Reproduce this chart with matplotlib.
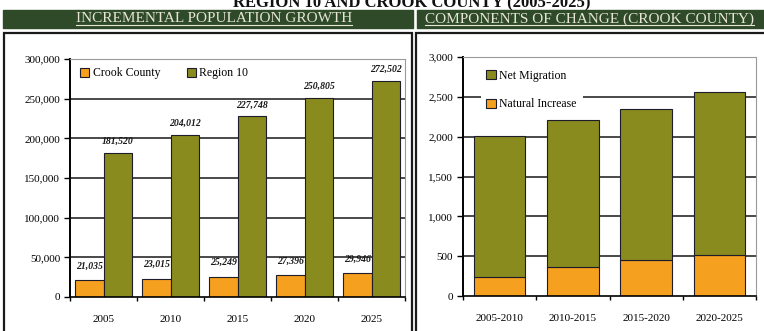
import matplotlib
matplotlib.use('Agg')
import matplotlib.pyplot as plt
import numpy as np
from matplotlib.patches import Rectangle
from matplotlib.lines import Line2D

# ---------------- data ----------------
years = ['2005', '2010', '2015', '2020', '2025']
crook = [21035, 23015, 25249, 27396, 29946]
region10 = [181520, 204012, 227748, 250805, 272502]
crook_labels = ['21,035', '23,015', '25,249', '27,396', '29,946']
region_labels = ['181,520', '204,012', '227,748', '250,805', '272,502']
left_yticks = [0, 50000, 100000, 150000, 200000, 250000, 300000]

periods = ['2005-2010', '2010-2015', '2015-2020', '2020-2025']
natural_increase = [240, 370, 455, 515]
net_migration = [1770, 1840, 1890, 2040]
right_yticks = [0, 500, 1000, 1500, 2000, 2500, 3000]

title = 'REGION 10 AND CROOK COUNTY (2005-2025)'
left_header = 'INCREMENTAL POPULATION GROWTH'
right_header = 'COMPONENTS OF CHANGE (CROOK COUNTY)'

# ---------------- style ----------------
plt.rcParams['font.family'] = ['Liberation Serif', 'DejaVu Serif']
OLIVE = '#8a8b1e'
ORANGE = '#f6a01f'
EDGE = '#1c1c2a'
HDR = '#2f4a28'
HTXT = '#e6e5d6'
W, H = 764, 331

fig = plt.figure(figsize=(W / 100, H / 100), dpi=100)
fig.patch.set_facecolor('white')


def fx(px):
    return px / W


def fy(py):
    return 1 - py / H


# title (partially cut at top, as in the source)
fig.text(fx(412), fy(7.5), title, ha='center', va='baseline', fontsize=12,
         fontweight='bold', color='#111111')

# header bars
HT, HB = 10, 28
fig.patches.append(Rectangle((fx(3), fy(HB)), fx(413) - fx(3), (HB - HT) / H,
                             transform=fig.transFigure, color=HDR, zorder=0))
fig.patches.append(Rectangle((fx(417), fy(HB)), fx(770) - fx(417), (HB - HT) / H,
                             transform=fig.transFigure, color=HDR, zorder=0))
t1 = fig.text(fx(214), fy(19), left_header, ha='center', va='center',
              fontsize=11, color=HTXT)
t2 = fig.text(fx(425), fy(19), right_header, ha='left', va='center',
              fontsize=11, color=HTXT)

# panel borders
BT = 33
fig.patches.append(Rectangle((fx(4), fy(340)), fx(412) - fx(4), (340 - BT) / H,
                             transform=fig.transFigure, fill=False,
                             edgecolor='#1a1a1a', lw=1.6, zorder=5))
fig.patches.append(Rectangle((fx(416), fy(340)), fx(780) - fx(416), (340 - BT) / H,
                             transform=fig.transFigure, fill=False,
                             edgecolor='#1a1a1a', lw=1.6, zorder=5))


def style_axes(ax, yticks, ylabels, ncat):
    ax.set_ylim(yticks[0], yticks[-1])
    ax.set_yticks(yticks)
    ax.set_yticklabels(ylabels, fontsize=8)
    ax.set_xlim(-0.5, ncat - 0.5)
    ax.set_xticks(np.arange(-0.5, ncat), minor=True)
    ax.tick_params(axis='x', which='major', length=0, pad=13, labelsize=8)
    ax.tick_params(axis='x', which='minor', length=3, width=1, direction='out')
    ax.tick_params(axis='y', length=4, width=1, direction='out', pad=3)
    for v in yticks[1:-1]:
        ax.axhline(v, color='#2a2a2a', lw=1.2, zorder=0.5)
    ax.set_axisbelow(True)
    ax.spines['left'].set_linewidth(1.4)
    ax.spines['bottom'].set_linewidth(1.2)
    ax.spines['top'].set_color('#9a9a9a')
    ax.spines['top'].set_linewidth(0.8)
    ax.spines['top'].set_linestyle((0, (3, 1)))
    ax.spines['right'].set_color('#9a9a9a')
    ax.spines['right'].set_linewidth(0.8)


# ---------------- left chart ----------------
axL = fig.add_axes([fx(70), fy(297), (405 - 70) / W, (297 - 59) / H])
x = np.arange(len(years))
bw = 0.42
bc = axL.bar(x - bw / 2, crook, bw, color=ORANGE, edgecolor=EDGE, lw=0.8,
             label='Crook County', zorder=2)
br = axL.bar(x + bw / 2, region10, bw, color=OLIVE, edgecolor=EDGE, lw=0.8,
             label='Region 10', zorder=2)
style_axes(axL, left_yticks, [f'{v:,}' for v in left_yticks], len(years))
axL.set_xticks(x)
axL.set_xticklabels(years)
for xi, v, lab in zip(x, crook, crook_labels):
    axL.annotate(lab, (xi - bw / 2, v), xytext=(0, 7), textcoords='offset points',
                 ha='center', va='bottom', fontsize=7, fontweight='bold',
                 style='italic', color='#1a1a1a')
for xi, v, lab in zip(x, region10, region_labels):
    axL.annotate(lab, (xi + bw / 2, v), xytext=(0, 5), textcoords='offset points',
                 ha='center', va='bottom', fontsize=7, fontweight='bold',
                 style='italic', color='#1a1a1a')
axL.legend(loc='center left', bbox_to_anchor=(0.03, 0.94), ncol=2, frameon=False,
           fontsize=8.5, handlelength=0.8, handleheight=0.8, handletextpad=0.3,
           columnspacing=2.2, borderaxespad=0, borderpad=0)

# ---------------- right chart ----------------
axR = fig.add_axes([fx(463), fy(296), (756 - 463) / W, (296 - 57) / H])
xr = np.arange(len(periods))
bw2 = 0.7
bn = axR.bar(xr, natural_increase, bw2, color=ORANGE, edgecolor=EDGE, lw=0.8,
             label='Natural Increase', zorder=2)
bm = axR.bar(xr, net_migration, bw2, bottom=natural_increase, color=OLIVE,
             edgecolor=EDGE, lw=0.8, label='Net Migration', zorder=2)
style_axes(axR, right_yticks, [f'{v:,}' for v in right_yticks], len(periods))
axR.set_xticks(xr)
axR.set_xticklabels(periods)
leg = axR.legend([bm, bn], ['Net Migration', 'Natural Increase'],
                 loc='center left', bbox_to_anchor=(0.06, 0.862), frameon=True,
                 fontsize=8.5, handlelength=0.8, handleheight=0.8,
                 handletextpad=0.3, labelspacing=1.4, borderaxespad=0,
                 borderpad=0.5, fancybox=False)
leg.get_frame().set_facecolor('white')
leg.get_frame().set_edgecolor('none')
leg.get_frame().set_alpha(1)

# underline headers
fig.canvas.draw()
r = fig.canvas.get_renderer()
for t in (t1, t2):
    bb = t.get_window_extent(r)
    yline = bb.y0 + 1
    fig.add_artist(Line2D([bb.x0 / W, min(bb.x1, W) / W], [yline / H, yline / H],
                          transform=fig.transFigure, color=HTXT, lw=0.8))

fig.savefig('out.png', dpi=100, facecolor='white')
